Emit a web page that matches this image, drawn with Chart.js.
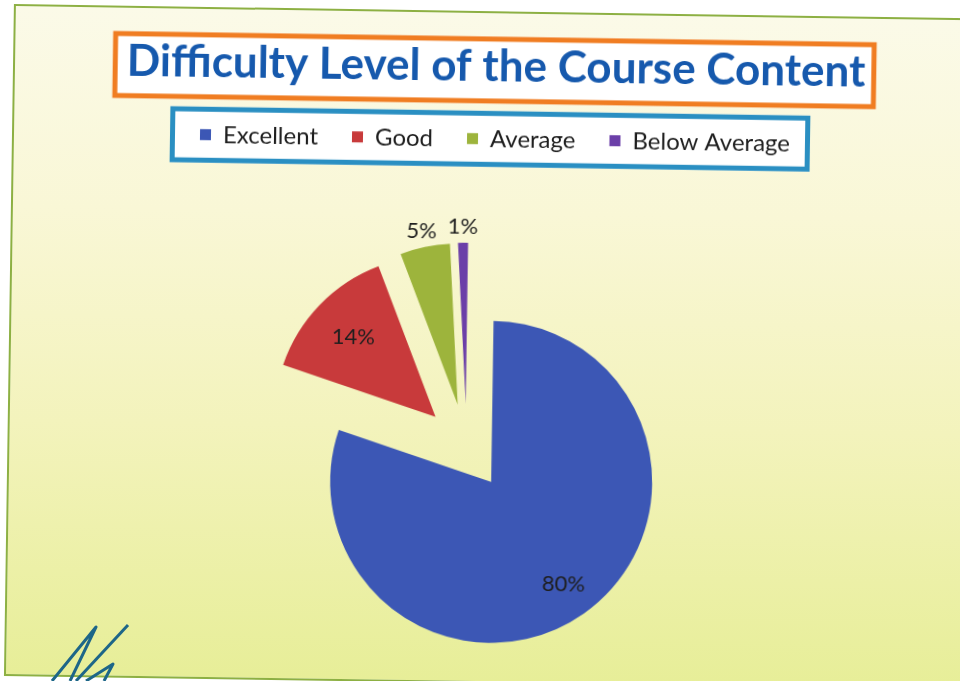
<!DOCTYPE html>
<html>
<head>
<meta charset="utf-8">
<title>Difficulty Level of the Course Content</title>
<script src="https://cdn.jsdelivr.net/npm/chart.js@4.4.1/dist/chart.umd.min.js"></script>
<style>
  html, body { margin: 0; padding: 0; width: 960px; height: 681px; overflow: hidden; background: #fff; }
  #stage { position: absolute; left: 0; top: 0; width: 960px; height: 733px;
           transform: rotate(0.85deg); transform-origin: 480px 340px; }
  #slide { position: absolute; left: 9px; top: 11px; width: 990px; height: 668px;
           border: 2px solid #8db043;
           background: linear-gradient(to bottom, #fbfae8 0%, #f9f7d6 30%, #f3f3bc 62%, #e7ee98 100%); }
  #chart { position: absolute; left: 0; top: 0; }
  #scribble { position: absolute; left: 0; top: 600px; }
</style>
</head>
<body>
<div id="stage">
  <div id="slide"></div>
  <canvas id="chart" width="960" height="733"></canvas>
</div>
<svg id="scribble" width="160" height="81">
  <polyline points="52,81 96,27 70,81" fill="none" stroke="#1d6688" stroke-width="3" stroke-linejoin="round"/>
  <polyline points="76,81 128,25" fill="none" stroke="#1d6688" stroke-width="3"/>
  <polyline points="86,81 113,64 104,81" fill="none" stroke="#1d6688" stroke-width="3" stroke-linejoin="round"/>
</svg>

<script>
var titleText = 'Difficulty Level of the Course Content';
var categories = ['Excellent', 'Good', 'Average', 'Below Average'];
var percentages = [80, 14, 5, 1];
var sliceColors = ['#3c57b5', '#c83a3b', '#9db43c', '#6b3fa8'];

var PIE_RADIUS = 161;
var EXPLODE = 43;      // every slice is pulled out this far from the pie centre
var RIGHT_GUTTER = 48; // empty space right of the pie, moves it left of the title

// empty box on the right so the pie sits a bit left of the title
var gutterPlugin = {
  id: 'gutter',
  beforeInit: function(chart) {
    Chart.layouts.addBox(chart, {
      position: 'right',
      weight: 0,
      fullSize: false,
      options: { stackWeight: 1 },
      left: 0, top: 0, right: 0, bottom: 0, width: 0, height: 0,
      isHorizontal: function() { return false; },
      getPadding: function() { return { top: 0, left: 0, right: 0, bottom: 0 }; },
      update: function(maxWidth, maxHeight) {
        this.width = RIGHT_GUTTER;
        this.height = maxHeight;
      },
      draw: function() {}
    });
  }
};

// white boxes with coloured frames behind the title and the legend
var framesPlugin = {
  id: 'frames',
  beforeDraw: function(chart) {
    var ctx = chart.ctx;
    ctx.save();

    var tb = chart.titleBlock;
    var topts = tb.options;
    ctx.font = 'bold ' + topts.font.size + 'px ' + topts.font.family;
    var tw = ctx.measureText(titleText).width;
    var tcx = (tb.left + tb.right) / 2;
    var tcy = tb.top + topts.padding.top + topts.font.size * 1.2 / 2;
    ctx.fillStyle = '#ffffff';
    ctx.fillRect(tcx - tw / 2 - 14, tcy - 30, tw + 25, 67);
    ctx.strokeStyle = '#f07d22';
    ctx.lineWidth = 5;
    ctx.strokeRect(tcx - tw / 2 - 11.5, tcy - 27.5, tw + 20, 62);

    var hb = chart.legend.legendHitBoxes;
    var first = hb[0], last = hb[hb.length - 1];
    var lx = first.left - 30;
    var rx = last.left + last.width + 20;
    var cy = first.top + first.height / 2;
    ctx.fillStyle = '#ffffff';
    ctx.fillRect(lx, cy - 28, rx - lx, 56);
    ctx.strokeStyle = '#2a8fc2';
    ctx.strokeRect(lx + 2.5, cy - 25.5, rx - lx - 5, 51);
    ctx.restore();
  }
};

// pull every slice out along its middle angle
var explodePlugin = {
  id: 'explode',
  afterDatasetsUpdate: function(chart) {
    chart.getDatasetMeta(0).data.forEach(function(arc) {
      var mid = (arc.startAngle + arc.endAngle) / 2;
      arc.x += Math.cos(mid) * EXPLODE;
      arc.y += Math.sin(mid) * EXPLODE;
    });
  }
};

// percentage labels: big slices inside, small slices above their tips
var pctLabelsPlugin = {
  id: 'pctLabels',
  afterDatasetsDraw: function(chart) {
    var ctx = chart.ctx;
    var meta = chart.getDatasetMeta(0);
    ctx.save();
    ctx.font = '22px Lato';
    ctx.fillStyle = '#1e1e1e';
    ctx.textBaseline = 'middle';
    ctx.textAlign = 'center';
    meta.data.forEach(function(arc, i) {
      var p = arc.getProps(['x', 'y', 'startAngle', 'endAngle', 'outerRadius'], true);
      var mid = (p.startAngle + p.endAngle) / 2;
      var dist;
      if (percentages[i] >= 10) {
        dist = p.outerRadius * (i === 0 ? 0.78 : 0.71);
      } else {
        dist = p.outerRadius + 16;
      }
      ctx.fillText(percentages[i] + '%', p.x + Math.cos(mid) * dist, p.y + Math.sin(mid) * dist);
    });
    ctx.restore();
  }
};

var ctx = document.getElementById('chart').getContext('2d');
new Chart(ctx, {
  type: 'pie',
  data: {
    labels: categories,
    datasets: [{
      data: percentages,
      backgroundColor: sliceColors,
      borderWidth: 0,
      radius: PIE_RADIUS
    }]
  },
  options: {
    responsive: false,
    animation: false,
    events: [],
    devicePixelRatio: 1,
    layout: { padding: { left: 24, right: 0, top: 0, bottom: 0 } },
    plugins: {
      title: {
        display: true,
        text: titleText,
        color: '#1659ad',
        font: { family: 'Lato', size: 44, weight: 'bold' },
        padding: { top: 40, bottom: 0 }
      },
      legend: {
        display: true,
        position: 'top',
        labels: {
          boxWidth: 11,
          boxHeight: 11,
          padding: 34,
          color: '#1e1e1e',
          font: { family: 'Lato', size: 24 }
        }
      },
      tooltip: { enabled: false }
    }
  },
  plugins: [gutterPlugin, framesPlugin, explodePlugin, pctLabelsPlugin]
});
</script>
</body>
</html>
